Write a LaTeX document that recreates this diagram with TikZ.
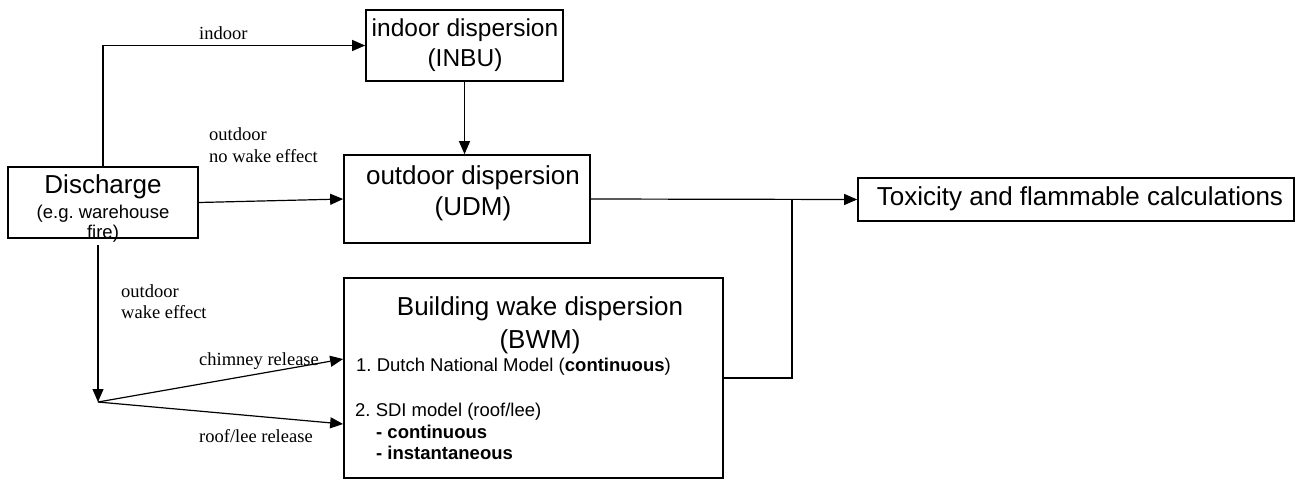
\documentclass[tikz,border=0pt]{standalone}
\usepackage{fontspec}
\setmainfont{Liberation Serif}
\newfontfamily\arialf{Liberation Sans}
\usetikzlibrary{arrows.meta}
\frenchspacing
\begin{document}
\begin{tikzpicture}[x=1pt,y=-1pt,
  box/.style={draw, line width=1.7pt, inner sep=0pt},
  con/.style={line width=1.2pt},
  arr/.style={con, -{Triangle[length=13pt,width=11pt]}},
  bigtxt/.style={inner sep=0pt, anchor=base, font=\arialf\fontsize{26}{30}\selectfont},
  smalltxt/.style={inner sep=0pt, font=\arialf\fontsize{18.5}{22}\selectfont},
  lbl/.style={inner sep=0pt, anchor=base west, font=\fontsize{18.5}{22}\selectfont}]
\useasboundingbox (0,0) rectangle (1299,480);

% boxes
\node[box, minimum width=190pt, minimum height=71pt] (dis) at (103,202.5) {};
\node[box, minimum width=197pt, minimum height=71pt] (inbu) at (464.5,45.5) {};
\node[box, minimum width=246pt, minimum height=88pt] (udm) at (467,199) {};
\node[box, minimum width=379pt, minimum height=200pt] (bwm) at (533.5,378) {};
\node[box, minimum width=436pt, minimum height=43pt] (tox) at (1076,199.5) {};

% box texts
\node[bigtxt] (t1) at (103,193) {Discharge};
\node[smalltxt, anchor=base] (t2) at (103,218) {(e.g. warehouse};
\node[smalltxt, anchor=base] (t3) at (103,238) {fire)};
\node[bigtxt, font=\arialf\fontsize{24.5}{30}\selectfont] (t4) at (465,36) {indoor dispersion};
\node[bigtxt, font=\arialf\fontsize{24.5}{30}\selectfont] (t5) at (465,66) {(INBU)};
\node[bigtxt] (t6) at (473,184) {outdoor dispersion};
\node[bigtxt] (t7) at (473,215) {(UDM)};
\node[bigtxt] (t8) at (540,315) {Building wake dispersion};
\node[bigtxt] (t9) at (540,348) {(BWM)};
\node[smalltxt, anchor=base west] (t10) at (356,371) {1. Dutch National Model (\textbf{continuous})};
\node[smalltxt, anchor=base west] (t11) at (355,416) {2. SDI model (roof/lee)};
\node[smalltxt, anchor=base west] (t12) at (376,438) {\textbf{- continuous}};
\node[smalltxt, anchor=base west] (t13) at (376,459) {\textbf{- instantaneous}};
\node[bigtxt] (t14) at (1080,205) {Toxicity and flammable calculations};

% connector labels
\node[lbl] (l1) at (199,39) {indoor};
\node[lbl] (l2) at (209,140) {outdoor};
\node[lbl] (l3) at (209,162) {no wake effect};
\node[lbl] (l4) at (121,297) {outdoor};
\node[lbl] (l5) at (121,318) {wake effect};
\node[lbl] (l6) at (199,365) {chimney release};
\node[lbl] (l7) at (199,442) {roof/lee release};

% connectors
\coordinate (dsout) at (98,245);
\coordinate (split) at (98,402);
\coordinate (join) at (792,199.5);
\draw[arr] (dis.north) |- (inbu.west);
\draw[arr] (inbu.south) -- (inbu.south |- udm.north);
\draw[arr] (dis.east) -- (udm.west);
\draw[arr] (dsout) -- (split);
\draw[arr] (split) -- (bwm.west |- 0,359);
\draw[arr] (split) -- (bwm.west |- 0,424);
\draw[arr] (udm.east) -- (tox.west);
\draw[con] (bwm.east) -| (join);
\end{tikzpicture}
\end{document}
